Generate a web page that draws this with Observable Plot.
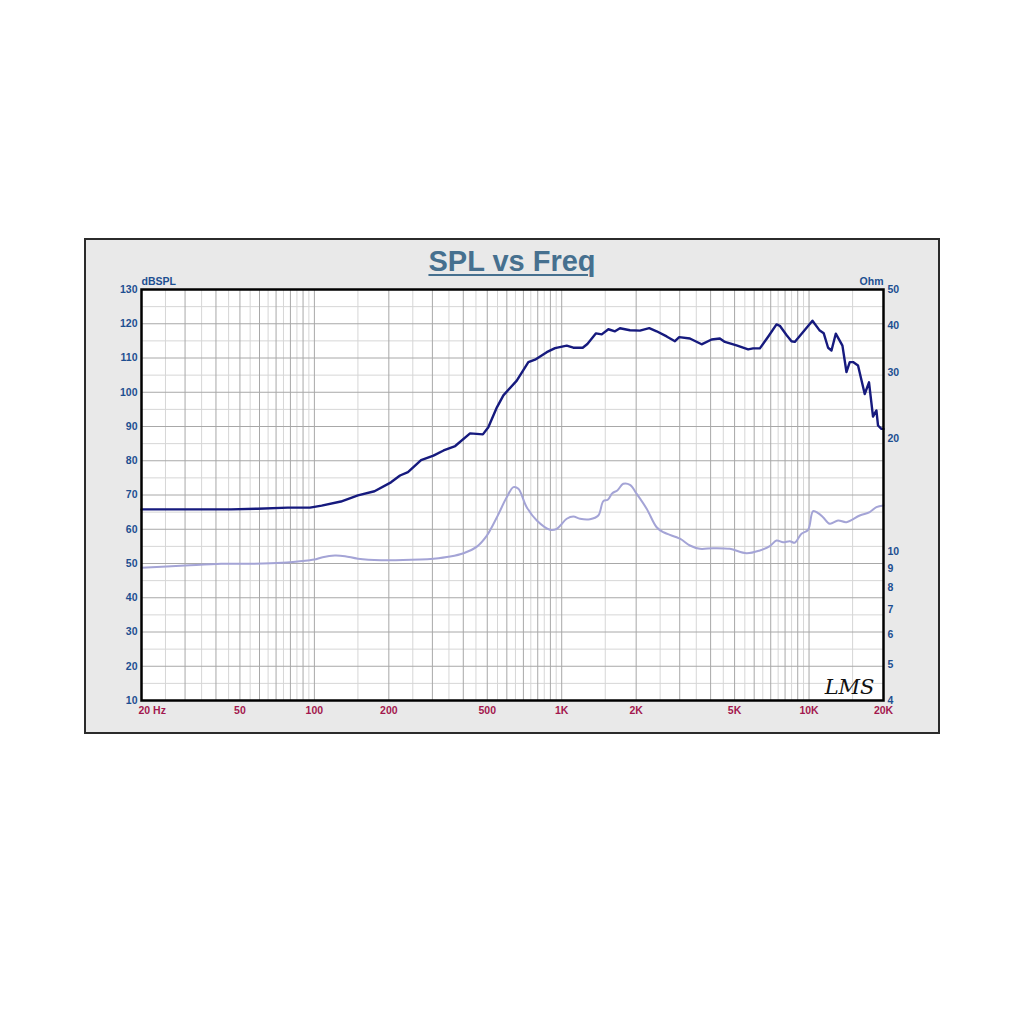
<!DOCTYPE html>
<html><head><meta charset="utf-8">
<script src="https://cdn.jsdelivr.net/npm/d3@7"></script>
<script src="https://cdn.jsdelivr.net/npm/@observablehq/plot@0.6"></script>
<style>
html,body{margin:0;padding:0;background:#fff;width:1024px;height:1024px;overflow:hidden;}
#frame{position:absolute;left:84px;top:238px;width:856px;height:496px;box-sizing:border-box;border:2px solid #2b2b2b;background:#e9e9e9;}
#title{position:absolute;left:0;width:1024px;top:245px;line-height:33px;text-align:center;font:bold 29px "Liberation Sans",Arial,sans-serif;color:#46708f;}
#title span{text-decoration:underline;text-decoration-thickness:2px;text-underline-offset:3px;}
.layer{position:absolute;left:84px;top:238px;width:856px;height:496px;}
</style></head><body>
<div id="frame"></div>
<div id="title"><span>SPL vs Freq</span></div>
<div id="c1" class="layer"></div>
<div id="c2" class="layer"></div>
<script>
// SPL response (Hz, dB SPL)
const splFreq = [20,46,59,78,96,107,128,150,175,204,222,239,270,303,333,371,426,480,505,547,581,658,733,780,870,940,1048,1114,1216,1270,1376,1451,1544,1642,1720,1888,2071,2259,2420,2656,2870,2986,3298,3678,4036,4360,4568,5092,5672,5942,6325,6832,7388,7618,8106,8492,8756,9460,10324,11048,11468,11940,12324,12826,13646,14166,14606,15062,15778,16792,17476,18140,18722,19004,19612,20000];
const splDb = [65.8,65.8,66.0,66.3,66.3,66.9,68.1,69.9,71.1,73.7,75.7,76.7,80.2,81.5,83.0,84.3,88.0,87.7,89.8,95.6,99.1,103.4,108.8,109.5,111.7,112.9,113.6,113.0,113.0,114.1,117.2,116.9,118.4,117.8,118.7,118.1,118.0,118.7,117.8,116.3,114.9,116.1,115.7,114.0,115.4,115.7,114.7,113.7,112.5,112.8,112.8,116.2,119.8,119.4,116.7,114.9,114.7,117.6,120.9,118.0,117.2,113.0,112.2,117.1,113.6,105.9,108.8,108.8,107.8,99.5,102.9,92.9,94.7,90.3,89.3,89.3];
// Impedance (Hz, Ohm)
const impFreq = [20,30,42,57,74,94,100,108,121,133,150,186,268,303,354,401,454,498,547,600,638,668,722,793,897,955,1048,1114,1186,1301,1406,1473,1535,1602,1678,1774,1888,2009,2205,2420,2574,3006,3298,3620,4096,4784,5588,6325,6942,7388,7856,8360,8756,9320,9912,10384,10878,11394,12124,13104,14166,16030,17592,18722,20000];
const impOhm = [9.04,9.17,9.27,9.27,9.32,9.46,9.51,9.65,9.75,9.71,9.56,9.47,9.51,9.56,9.69,9.89,10.30,11.02,12.34,13.96,14.84,14.69,13.12,12.09,11.42,11.49,12.22,12.39,12.22,12.19,12.47,13.62,13.73,14.30,14.54,15.15,15.06,14.25,13.00,11.60,11.25,10.81,10.37,10.16,10.20,10.16,9.89,10.06,10.33,10.69,10.58,10.65,10.55,11.15,11.42,12.81,12.65,12.34,11.85,12.09,11.97,12.47,12.73,13.12,13.26];
// Tick labels
const dbTicks = [10,20,30,40,50,60,70,80,90,100,110,120,130];
const dbMinor = [15,25,35,45,55,65,75,85,95,105,115,125];
const ohmTicks = [4,5,6,7,8,9,10,20,30,40,50];
const xTicks = [50,100,200,500,1000,2000,5000,10000,20000];
const xTickLabels = ["50","100","200","500","1K","2K","5K","10K","20K"];

const spl = splFreq.map((f,i)=>({f, db: splDb[i]}));
const imp = impFreq.map((f,i)=>({f, ohm: impOhm[i]}));
const xMajor = [], xMinor = [];
for (const d of [10,100,1000,10000]) for (let k=1;k<=9;k++){
  const a=k*d, b=(k+0.5)*d;
  if (a>=20 && a<=20000) xMajor.push(a);
  if (b>20 && b<20000) xMinor.push(b);
}
xMajor.push(20000);

const BLUE="#1d4f91", RED="#a3174e", FONT="'Liberation Sans',Arial,sans-serif";
const common = {
  width:856, height:496, marginTop:51, marginRight:57, marginBottom:34, marginLeft:57,
  x:{type:"log", domain:[20,20000], axis:null},
  style:"background:transparent;font-family:"+FONT+";font-size:10.5px;overflow:visible;"
};
const lab = {fill:BLUE, fontWeight:"bold", fontSize:10.5};

const p1 = Plot.plot({...common,
  y:{domain:[10,130], axis:null},
  marks:[
    Plot.frame({fill:"white", stroke:null}),
    Plot.ruleY(dbMinor, {stroke:"#d6d6d6"}),
    Plot.ruleX(xMinor, {stroke:"#d6d6d6"}),
    Plot.ruleY(dbTicks, {stroke:"#a8a8a8"}),
    Plot.ruleX(xMajor, {stroke:"#a8a8a8"}),
    Plot.line(spl, {x:"f", y:"db", stroke:"#161a7e", strokeWidth:2.4}),
    Plot.text(dbTicks, {y:d=>d, text:d=>String(d), frameAnchor:"left", textAnchor:"end", dx:-4, ...lab}),
    Plot.text(["dBSPL"], {text:d=>d, frameAnchor:"top-left", textAnchor:"start", lineAnchor:"bottom", dy:-5, ...lab}),
    Plot.text(xTicks, {x:d=>d, text:(d,i)=>xTickLabels[i], frameAnchor:"bottom", lineAnchor:"top", dy:6, fill:RED, fontWeight:"bold", fontSize:10.5}),
    Plot.text(["20 Hz"], {x:()=>20, text:d=>d, frameAnchor:"bottom", textAnchor:"start", lineAnchor:"top", dx:-3, dy:6, fill:RED, fontWeight:"bold", fontSize:10.5})
  ]
});
const p2 = Plot.plot({...common,
  y:{type:"log", domain:[4,50], axis:null},
  marks:[
    Plot.line(imp, {x:"f", y:"ohm", stroke:"#a4a4d6", strokeWidth:2, curve:"catmull-rom"}),
    Plot.text(ohmTicks, {y:d=>d, text:d=>String(d), frameAnchor:"right", textAnchor:"start", dx:4, ...lab}),
    Plot.text(["Ohm"], {text:d=>d, frameAnchor:"top-right", textAnchor:"end", lineAnchor:"bottom", dy:-5, ...lab}),
    Plot.text(["LMS"], {text:d=>d, frameAnchor:"bottom-right", textAnchor:"end", lineAnchor:"bottom", dx:-9, dy:-7, fontFamily:"'DejaVu Serif',serif", fontStyle:"italic", fontSize:21, fill:"#111", fontWeight:"normal"}),
    Plot.frame({stroke:"#000", strokeWidth:2.5})
  ]
});
document.getElementById("c1").appendChild(p1);
document.getElementById("c2").appendChild(p2);
</script>
</body></html>
